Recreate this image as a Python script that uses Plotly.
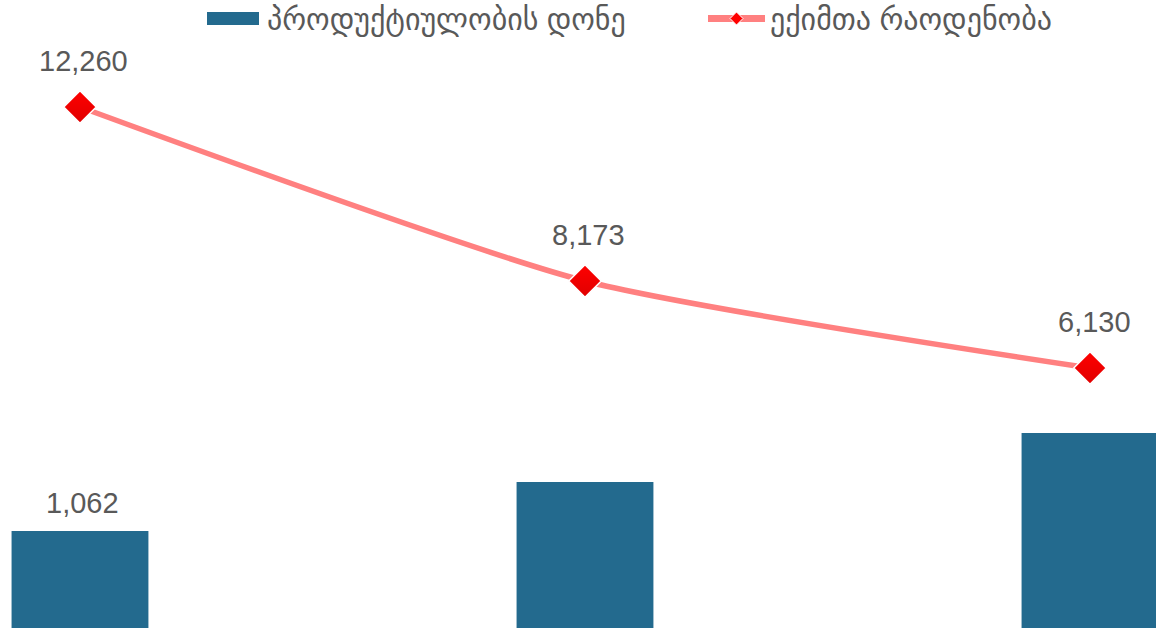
import plotly.graph_objects as go

# Chart data
positions = [0, 1, 2]
productivity = [1062, 1598, 2134]          # პროდუქტიულობის დონე
doctors = [12260, 8173, 6130]             # ექიმთა რაოდენობა
bar_labels = ["1,062", "", ""]
line_labels = ["12,260", "8,173", "6,130"]
series_names = ["პროდუქტიულობის დონე", "ექიმთა რაოდენობა"]

BAR_COLOR = "#236A8E"
LINE_COLOR = "#FF8080"
MARKER_COLOR = "#FF0000"
TEXT_COLOR = "#595959"
FONT = "Liberation Sans, Arial, DejaVu Sans, sans-serif"
LABEL_SIZE = 29
LEGEND_SIZE = 30

fig = go.Figure()

fig.add_trace(go.Bar(
    x=positions, y=productivity, name=series_names[0],
    marker=dict(color=BAR_COLOR, line=dict(width=0)),
    width=0.271, yaxis="y", showlegend=False,
))

fig.add_trace(go.Scatter(
    x=positions, y=doctors, name=series_names[1],
    mode="lines+markers",
    line=dict(color=LINE_COLOR, width=5.5, shape="spline", smoothing=0.6),
    marker=dict(symbol="diamond", size=25, color=MARKER_COLOR,
                line=dict(color="white", width=1.5),
                gradient=dict(type="vertical", color="#E00000")),
    yaxis="y2", cliponaxis=False, showlegend=False,
))

# Value labels
annotations = []
for x, v, t in zip(positions, productivity, bar_labels):
    if t:
        annotations.append(dict(x=x, y=v, xref="x", yref="y", text=t,
                                showarrow=False, yanchor="middle",
                                yshift=28, xshift=3,
                                font=dict(size=LABEL_SIZE, color=TEXT_COLOR, family=FONT)))
for x, v, t in zip(positions, doctors, line_labels):
    annotations.append(dict(x=x, y=v, xref="x", yref="y2", text=t,
                            showarrow=False, yanchor="middle",
                            yshift=46, xshift=4,
                            font=dict(size=LABEL_SIZE, color=TEXT_COLOR, family=FONT)))

# Legend drawn at the top: swatches as shapes, names as text
LEG_Y = 1 - 18.5 / 628
shapes = [
    dict(type="rect", xref="paper", yref="paper",
         x0=207 / 1156, x1=259 / 1156, y0=1 - 25 / 628, y1=1 - 12 / 628,
         fillcolor=BAR_COLOR, line=dict(width=0)),
    dict(type="line", xref="paper", yref="paper",
         x0=708 / 1156, x1=765 / 1156, y0=LEG_Y, y1=LEG_Y,
         line=dict(color=LINE_COLOR, width=7)),
    dict(type="path", xref="paper", yref="paper",
         path=f"M {730/1156} {LEG_Y} L {736.5/1156} {LEG_Y + 6.5/628} "
              f"L {743/1156} {LEG_Y} L {736.5/1156} {LEG_Y - 6.5/628} Z",
         fillcolor=MARKER_COLOR, line=dict(color="white", width=1)),
]
annotations.append(dict(x=265 / 1156, y=1 - 20 / 628, xref="paper", yref="paper",
                        text=series_names[0], showarrow=False,
                        xanchor="left", yanchor="middle",
                        font=dict(size=LEGEND_SIZE, color=TEXT_COLOR, family=FONT)))
annotations.append(dict(x=768 / 1156, y=1 - 20 / 628, xref="paper", yref="paper",
                        text=series_names[1], showarrow=False,
                        xanchor="left", yanchor="middle",
                        font=dict(size=LEGEND_SIZE, color=TEXT_COLOR, family=FONT)))

fig.update_layout(
    width=1156, height=628,
    margin=dict(l=0, r=0, t=0, b=0),
    paper_bgcolor="white", plot_bgcolor="white",
    font=dict(family=FONT, color=TEXT_COLOR),
    xaxis=dict(range=[-0.1584, 2.1307], visible=False, showgrid=False, zeroline=False),
    yaxis=dict(range=[0, 6875], visible=False, showgrid=False, zeroline=False),
    yaxis2=dict(range=[22.5, 14773], overlaying="y", visible=False,
                showgrid=False, zeroline=False),
    shapes=shapes,
    annotations=annotations,
    showlegend=False,
)

fig.write_html("out.html")
